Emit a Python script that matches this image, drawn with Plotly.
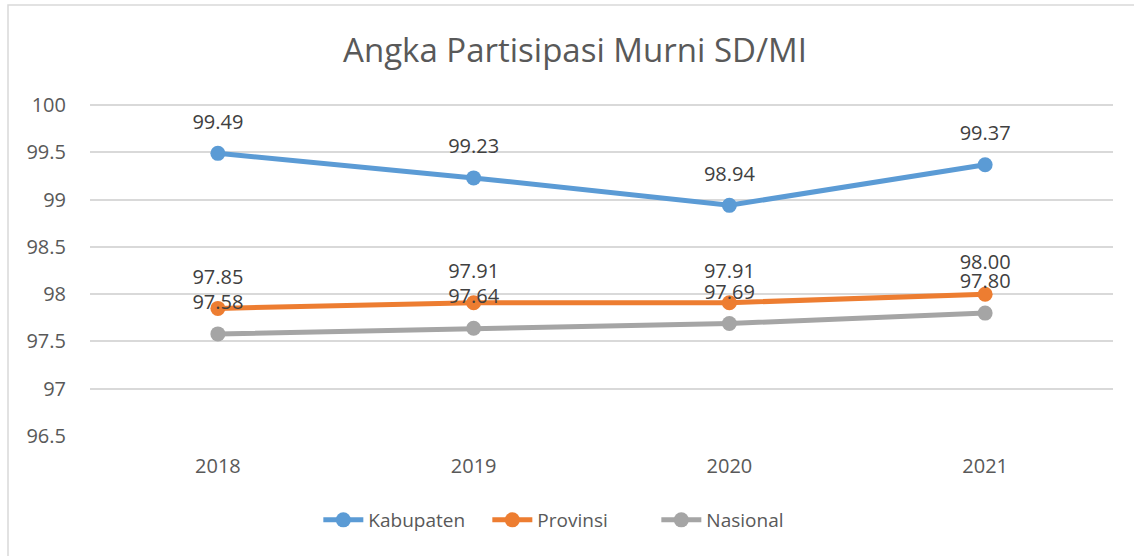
import plotly.graph_objects as go

years = ["2018", "2019", "2020", "2021"]
kabupaten = [99.49, 99.23, 98.94, 99.37]
provinsi = [97.85, 97.91, 97.91, 98.00]
nasional = [97.58, 97.64, 97.69, 97.80]

series = [
    ("Kabupaten", kabupaten, "#5B9BD5"),
    ("Provinsi", provinsi, "#ED7D31"),
    ("Nasional", nasional, "#A5A5A5"),
]

FONT = "Open Sans, sans-serif"
TXT = "#595959"

fig = go.Figure()
for name, vals, col in series:
    fig.add_trace(go.Scatter(
        x=years, y=vals, name=name, mode="lines+markers",
        line=dict(color=col, width=5),
        marker=dict(color=col, size=15),
    ))

# data labels (invisible large marker gives the label offset)
for name, vals, col in series:
    fig.add_trace(go.Scatter(
        x=years, y=vals, mode="markers+text", showlegend=False,
        text=[f"{v:.2f}" for v in vals], textposition="top center",
        textfont=dict(family=FONT, size=20, color="#404040"),
        marker=dict(size=30, color="rgba(0,0,0,0)"),
        hoverinfo="skip",
    ))

fig.update_layout(
    width=1134, height=556,
    paper_bgcolor="white", plot_bgcolor="white",
    margin=dict(l=90, r=21, t=104, b=120),
    title=dict(text="Angka Partisipasi Murni SD/MI", x=575 / 1134, xanchor="center",
               y=1 - 50 / 556, yanchor="middle",
               font=dict(family=FONT, size=33, color=TXT)),
    font=dict(family=FONT, size=19, color=TXT),
    xaxis=dict(type="category", range=[-0.5, 3.5], showgrid=False,
               showline=False, zeroline=False, ticks="",
               ticklabelstandoff=16,
               tickfont=dict(size=20, color=TXT)),
    yaxis=dict(range=[96.5, 100.012], dtick=0.5, tick0=96.5, showgrid=True,
               gridcolor="#D9D9D9", gridwidth=1.5, zeroline=False,
               showline=False, ticks="", ticklabelstandoff=23,
               tickfont=dict(size=20, color=TXT)),
    legend=dict(orientation="h", x=0.471, xanchor="center", y=-0.253,
                yanchor="middle", font=dict(size=19, color=TXT),
                itemwidth=40, tracegroupgap=0,
                entrywidth=114, entrywidthmode="pixels"),
    showlegend=True,
    shapes=[dict(type="rect", xref="paper", yref="paper",
                 x0=-82 / 1023, x1=1.2, y0=-0.5, y1=1 + 99 / 332,
                 line=dict(color="#D9D9D9", width=1.5), layer="below")],
)

fig.write_html("out.html", config={"displayModeBar": False},
               post_script="document.body.style.margin='0';document.body.style.overflow='hidden';")
